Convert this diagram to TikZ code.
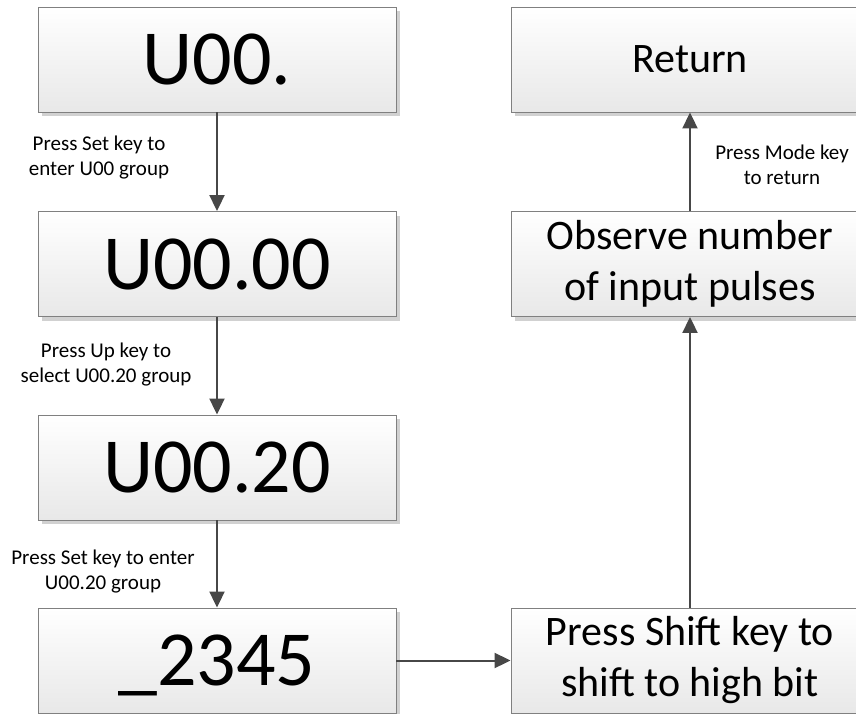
\documentclass[tikz,border=0pt]{standalone}
\usepackage{fontspec}
\setmainfont{Carlito}
\usetikzlibrary{arrows.meta,shadows}

\tikzset{
  stepbox/.style={
    draw=black!50, line width=0.9pt,
    top color=white, bottom color=black!9,
    minimum width=358pt, minimum height=105pt,
    inner sep=0pt, align=center,
    drop shadow={shadow xshift=4pt, shadow yshift=-4pt, fill=black!18, opacity=1}
  },
  bignum/.style={font=\fontsize{78}{94}\selectfont},
  midtext/.style={font=\fontsize{42}{51}\selectfont},
  hint/.style={font=\fontsize{21}{25}\selectfont, align=center, inner sep=0pt},
  flow/.style={draw=black!72, line width=2pt, -{Triangle[length=16pt,width=15pt]}}
}

\begin{document}
\begin{tikzpicture}[x=1pt,y=-1pt]
  \useasboundingbox (0,0) rectangle (856,714);
  \fill[white] (0,0) rectangle (856,714);
  \clip (0,0) rectangle (856,714);

  % left column: keypad display states
  \node[stepbox, bignum] (u00)   at (217,59.5)  {U00.};
  \node[stepbox, bignum] (u0000) at (217,264)   {U00.00};
  \node[stepbox, bignum] (u0020) at (217,467.5) {U00.20};
  \node[stepbox, bignum, text depth=0pt] (val) at (217,660.5) {\_2345};

  % right column: actions
  \node[stepbox, midtext] (shift)   at (690,660.5) {Press Shift key to\\shift to high bit};
  \node[stepbox, midtext] (observe) at (690,264)   {Observe number\\of input pulses};
  \node[stepbox, midtext] (ret)     at (690,59.5)  {Return};

  % connectors
  \draw[flow] (u00.south)   -- (u0000.north);
  \draw[flow] (u0000.south) -- (u0020.north);
  \draw[flow] (u0020.south) -- (val.north);
  \draw[flow] (val.east)    -- (shift.west);
  \draw[flow] (shift.north) -- (observe.south);
  \draw[flow] (observe.north) -- (ret.south);

  % key hints
  \node[hint] (h1) at (99,157.5)  {Press Set key to\\enter U00 group};
  \node[hint] (h2) at (106,364.5) {Press Up key to\\select U00.20 group};
  \node[hint] (h3) at (103,572)   {Press Set key to enter\\U00.20 group};
  \node[hint] (h4) at (782,165)   {Press Mode key\\to return};
\end{tikzpicture}
\end{document}
